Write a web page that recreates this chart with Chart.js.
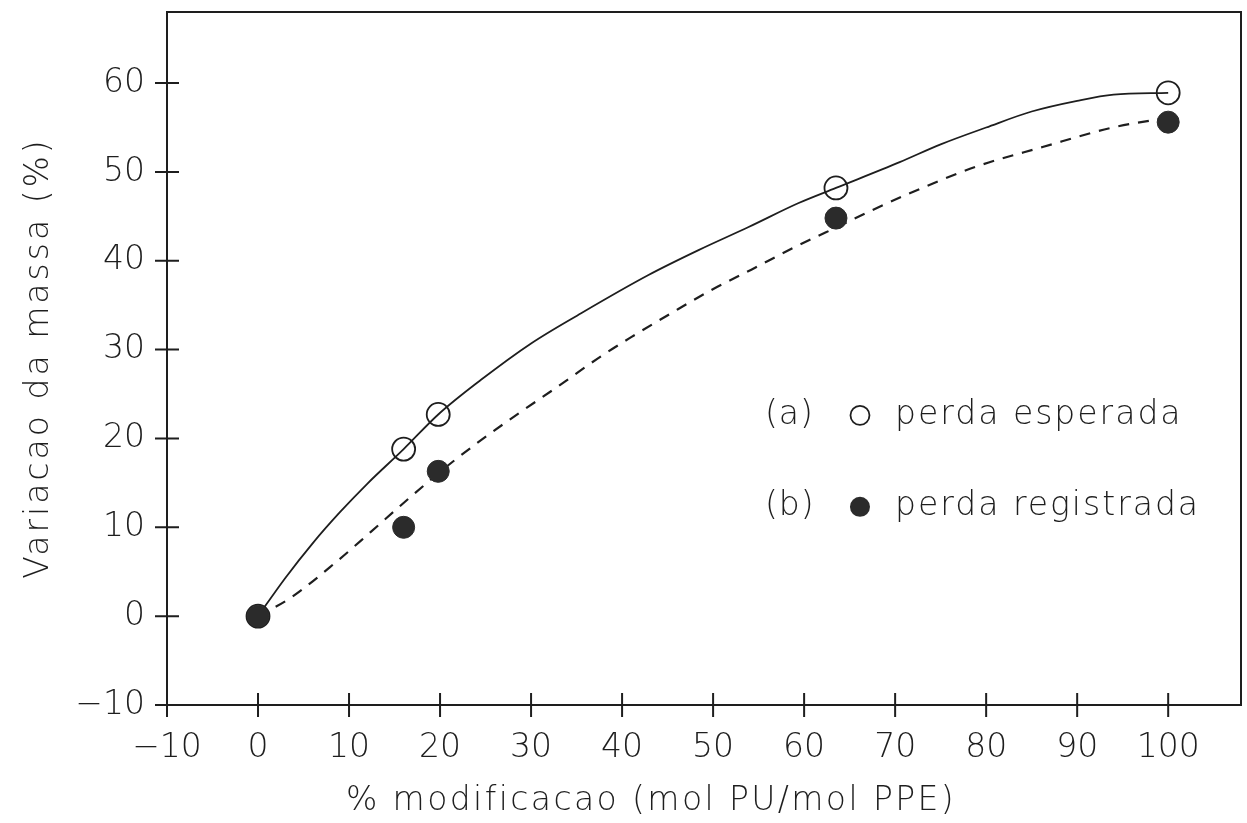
<!DOCTYPE html>
<html>
<head>
<meta charset="utf-8">
<script src="https://cdn.jsdelivr.net/npm/chart.js@4.4.1/dist/chart.umd.min.js"></script>
<style>
  html, body { margin: 0; padding: 0; background: #ffffff; }
  #wrap { width: 1247px; height: 823px; position: relative; }
</style>
</head>
<body>
<div id="wrap"><canvas id="grafico" width="1247" height="823"></canvas></div>
<script>
// Measured points: % modification vs. mass variation
const modificacao     = [0, 16, 19.8, 63.5, 100];
const perdaEsperada   = [0, 18.8, 22.7, 48.2, 58.9];
const perdaRegistrada = [0, 10.0, 16.3, 44.8, 55.6];

// Fitted curve through the expected loss (solid line)
const ajusteEsperadaX = [0, 3, 6, 9, 12, 16, 19.8, 24.5, 30, 35.5, 42.9, 48.4, 53.9, 59.4, 63.5, 70.5, 75, 80, 85, 90, 94, 100];
const ajusteEsperadaY = [0, 4.3, 8.2, 11.7, 14.9, 18.8, 22.7, 26.6, 30.7, 34.1, 38.4, 41.2, 43.8, 46.5, 48.2, 51.1, 53.1, 55.0, 56.8, 58.0, 58.7, 58.9];

// Fitted curve through the recorded loss (dashed line)
const ajusteRegistradaX = [0, 3.5, 8.7, 12.3, 16.4, 20.8, 24.5, 28.6, 32.6, 37.9, 41, 45.4, 49.8, 54.2, 59.1, 62.4, 67.5, 71.6, 78.9, 86.2, 93.9, 100];
const ajusteRegistradaY = [0, 2.0, 6.2, 9.4, 13.1, 16.9, 19.8, 22.8, 25.6, 29.4, 31.4, 34.1, 36.7, 39.0, 41.6, 43.2, 45.7, 47.6, 50.6, 52.8, 55.0, 56.1];

// Axis ticks and texts
const xTicks = [-10, 0, 10, 20, 30, 40, 50, 60, 70, 80, 90, 100];
const yTicks = [-10, 0, 10, 20, 30, 40, 50, 60];
const tituloX = '% modificacao (mol PU/mol PPE)';
const tituloY = 'Variacao da massa (%)';
const legendaRotulos = ['(a)', '(b)'];
const legendaTextos  = ['perda esperada', 'perda registrada'];

const FAMILIA = '"DejaVu Sans", "Liberation Sans", sans-serif';
const PESO = '200';
const TAM = 33;
const TINTA = '#1e1e1e';
const TRACO = 12;   // half length of each tick mark

const pares = (xs, ys) => xs.map((x, i) => ({ x: x, y: ys[i] }));
const rotuloNum = v => (v < 0 ? '\u2212' + Math.abs(v) : String(v));

// Frame, tick marks crossing the axes, legend and axis titles
const moldura = {
  id: 'moldura',
  afterDraw(chart) {
    const ctx = chart.ctx;
    const a = chart.chartArea;
    const sx = chart.scales.x, sy = chart.scales.y;
    ctx.save();
    ctx.strokeStyle = TINTA;
    ctx.lineWidth = 2;
    ctx.strokeRect(a.left, a.top, a.right - a.left, a.bottom - a.top);
    ctx.beginPath();
    sx.ticks.forEach(t => {
      const px = sx.getPixelForValue(t.value);
      ctx.moveTo(px, a.bottom + TRACO);
      ctx.lineTo(px, a.bottom - TRACO);
    });
    sy.ticks.forEach(t => {
      const py = sy.getPixelForValue(t.value);
      ctx.moveTo(a.left - TRACO, py);
      ctx.lineTo(a.left + TRACO, py);
    });
    ctx.stroke();

    // legend inside the plot
    ctx.fillStyle = TINTA;
    ctx.font = PESO + ' ' + TAM + 'px ' + FAMILIA;
    ctx.textBaseline = 'middle';
    ctx.textAlign = 'left';
    const lx = sx.getPixelForValue(55.7);
    const linhas = [sy.getPixelForValue(22.6), sy.getPixelForValue(12.3)];
    linhas.forEach((ly, i) => {
      ctx.letterSpacing = '1px';
      ctx.fillText(legendaRotulos[i], lx, ly);
      ctx.letterSpacing = '2px';
      ctx.fillText(legendaTextos[i], lx + 130, ly);
      ctx.beginPath();
      ctx.arc(lx + 95, ly, i === 0 ? 9.5 : 10, 0, Math.PI * 2);
      if (i === 0) { ctx.lineWidth = 1.8; ctx.stroke(); }
      else { ctx.fillStyle = '#2b2b2b'; ctx.fill(); ctx.fillStyle = TINTA; }
    });

    // axis titles
    ctx.textAlign = 'center';
    ctx.letterSpacing = '2.4px';
    ctx.fillText(tituloX, 651, 801);
    ctx.letterSpacing = '3px';
    ctx.translate(39, 358);
    ctx.rotate(-Math.PI / 2);
    ctx.fillText(tituloY, 0, 0);
    ctx.restore();
  }
};

new Chart(document.getElementById('grafico'), {
  type: 'scatter',
  data: {
    datasets: [
      {
        label: 'perda registrada',
        data: pares(modificacao, perdaRegistrada),
        showLine: false,
        pointRadius: 11,
        pointBackgroundColor: '#2b2b2b',
        pointBorderColor: '#2b2b2b',
        pointBorderWidth: 1
      },
      {
        label: 'perda esperada',
        data: pares(modificacao, perdaEsperada),
        showLine: false,
        pointRadius: 11.5,
        pointBackgroundColor: 'rgba(0,0,0,0)',
        pointBorderColor: TINTA,
        pointBorderWidth: 1.8
      },
      {
        label: 'ajuste esperada',
        data: pares(ajusteEsperadaX, ajusteEsperadaY),
        showLine: true,
        pointRadius: 0,
        borderColor: TINTA,
        borderWidth: 1.8,
        cubicInterpolationMode: 'monotone'
      },
      {
        label: 'ajuste registrada',
        data: pares(ajusteRegistradaX, ajusteRegistradaY),
        showLine: true,
        pointRadius: 0,
        borderColor: TINTA,
        borderWidth: 2.2,
        borderDash: [11, 9],
        cubicInterpolationMode: 'monotone'
      }
    ]
  },
  options: {
    responsive: false,
    animation: false,
    devicePixelRatio: 1,
    layout: { autoPadding: false, padding: { top: 12, right: 6, left: 0, bottom: 0 } },
    plugins: { legend: { display: false }, tooltip: { enabled: false } },
    scales: {
      x: {
        type: 'linear',
        min: -10,
        max: 108,
        afterBuildTicks: s => { s.ticks = xTicks.map(v => ({ value: v })); },
        afterFit: s => { s.height = 118; s.paddingLeft = 0; s.paddingRight = 0; },
        border: { display: false },
        grid: { drawOnChartArea: false, drawTicks: true, tickLength: 21, tickColor: 'rgba(0,0,0,0)' },
        ticks: {
          autoSkip: false,
          maxRotation: 0,
          padding: 3,
          color: TINTA,
          font: { family: FAMILIA, size: TAM, weight: PESO },
          callback: v => rotuloNum(v)
        }
      },
      y: {
        type: 'linear',
        min: -10,
        max: 68,
        afterBuildTicks: s => { s.ticks = yTicks.map(v => ({ value: v })); },
        afterFit: s => { s.width = 167; s.paddingTop = 0; s.paddingBottom = 0; },
        border: { display: false },
        grid: { drawOnChartArea: false, drawTicks: true, tickLength: 12, tickColor: 'rgba(0,0,0,0)' },
        ticks: {
          autoSkip: false,
          padding: 10,
          color: TINTA,
          font: { family: FAMILIA, size: TAM, weight: PESO },
          callback: v => rotuloNum(v)
        }
      }
    }
  },
  plugins: [moldura]
});
</script>
</body>
</html>
